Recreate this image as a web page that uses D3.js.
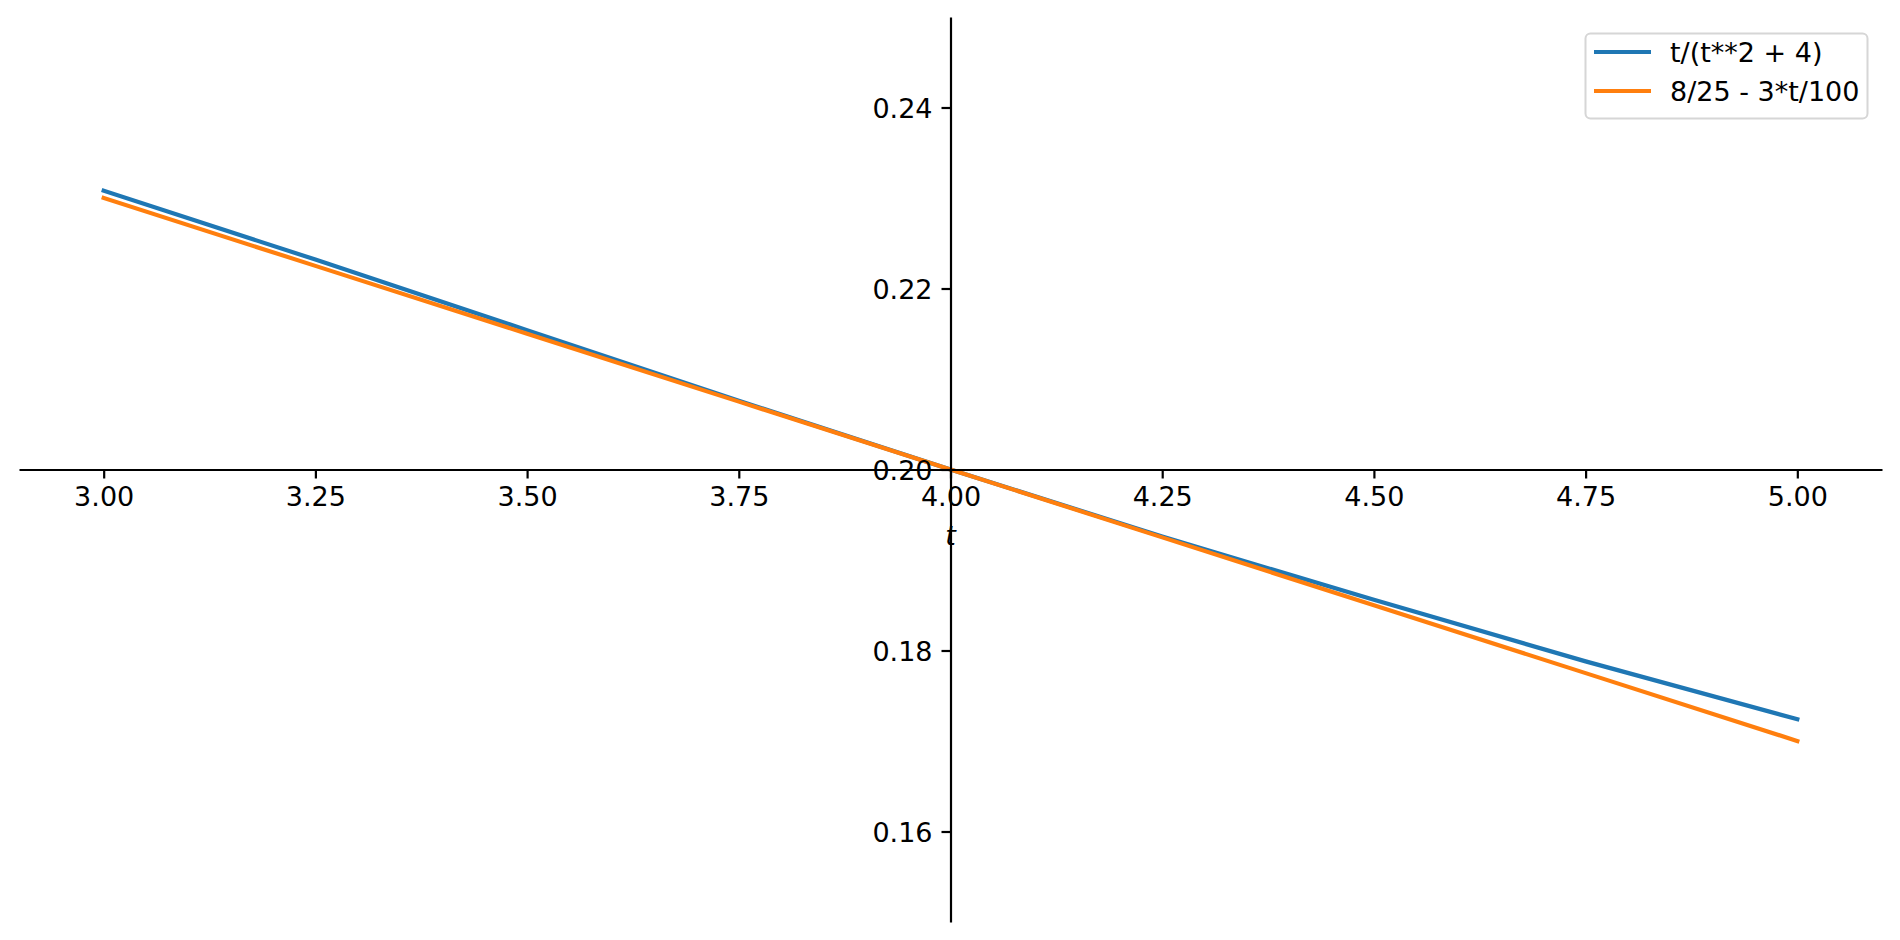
<!DOCTYPE html>
<head>
  <meta charset="utf-8">
  <script src="https://d3js.org/d3.v7.min.js"></script>
  <style>
    body {
      margin: 0;
      background: #fff;
      font-family: "DejaVu Sans";
    }

    .axis path,
    .axis line {
      fill: none;
      stroke: #000;
      stroke-width: 2.2px;
    }

    .axis text {
      font-family: "DejaVu Sans";
      font-size: 27px;
      fill: #000;
    }

    .legend text {
      font-family: "DejaVu Sans";
      font-size: 27px;
      fill: #000;
    }
  </style>
</head>

<body>
  <script>
    // sample points
    var tValues = [3.0, 3.25, 3.5, 3.75, 4.0, 4.25, 4.5, 4.75, 5.0];
    var blueValues = [0.2308, 0.2232, 0.2154, 0.2076, 0.2000, 0.1926, 0.1856, 0.1788, 0.1724];
    var orangeValues = [0.2300, 0.2225, 0.2150, 0.2075, 0.2000, 0.1925, 0.1850, 0.1775, 0.1700];

    var seriesNames = ["t/(t**2 + 4)", "8/25 - 3*t/100"];
    var seriesColors = ["#1f77b4", "#ff7f0e"];

    var xTicks = [3.0, 3.25, 3.5, 3.75, 4.0, 4.25, 4.5, 4.75, 5.0];
    var yTicks = [0.16, 0.18, 0.20, 0.22, 0.24];

    var W = 1900, H = 940;
    var plot = { left: 19, right: 1882, top: 17, bottom: 922 };

    var svg = d3.select("body").append("svg")
      .attr("width", W)
      .attr("height", H);

    var x = d3.scaleLinear().domain([2.9, 5.1]).range([plot.left, plot.right]);
    var y = d3.scaleLinear().domain([0.15, 0.25]).range([plot.bottom, plot.top]);

    var series = [blueValues, orangeValues];

    var line = d3.line()
      .x(function (d, i) { return x(tValues[i]); })
      .y(function (d) { return y(d); });

    svg.selectAll(".series")
      .data(series)
      .enter().append("path")
      .attr("class", "series")
      .attr("d", line)
      .attr("fill", "none")
      .attr("stroke", function (d, i) { return seriesColors[i]; })
      .attr("stroke-width", 4.2)
      .attr("stroke-linecap", "square");

    // axes cross at the centre (t = 4, y = 0.20)
    var xAxis = svg.append("g")
      .attr("class", "axis")
      .attr("transform", "translate(0," + y(0.20) + ")")
      .call(d3.axisBottom(x).tickValues(xTicks).tickFormat(d3.format(".2f"))
        .tickSizeOuter(0).tickSizeInner(9).tickPadding(8));

    var yAxis = svg.append("g")
      .attr("class", "axis")
      .attr("transform", "translate(" + x(4.0) + ",0)")
      .call(d3.axisLeft(y).tickValues(yTicks).tickFormat(d3.format(".2f"))
        .tickSizeOuter(0).tickSizeInner(9).tickPadding(9));

    svg.selectAll(".axis").attr("font-family", null).attr("font-size", null);
    xAxis.selectAll("text").attr("dy", "0.74em");
    yAxis.selectAll("text").attr("dy", "0.36em");

    // axis label
    svg.append("text")
      .attr("x", x(4.0))
      .attr("y", 545)
      .attr("text-anchor", "middle")
      .style("font-family", "DejaVu Sans")
      .style("font-style", "italic")
      .style("font-size", "27px")
      .text("t");

    // legend
    var legend = svg.append("g").attr("class", "legend");
    legend.append("rect")
      .attr("x", 1585.5)
      .attr("y", 33.5)
      .attr("width", 282)
      .attr("height", 85)
      .attr("rx", 5)
      .attr("fill", "#fff")
      .attr("fill-opacity", 0.8)
      .attr("stroke", "#d6d6d6")
      .attr("stroke-width", 2);

    var items = legend.selectAll(".item")
      .data(seriesNames)
      .enter().append("g")
      .attr("class", "item")
      .attr("transform", function (d, i) { return "translate(0," + (52 + i * 39) + ")"; });

    items.append("line")
      .attr("x1", 1594)
      .attr("x2", 1651)
      .attr("stroke", function (d, i) { return seriesColors[i]; })
      .attr("stroke-width", 4.2);

    items.append("text")
      .attr("x", 1670)
      .attr("dy", "0.36em")
      .text(function (d) { return d; });
  </script>
</body>
